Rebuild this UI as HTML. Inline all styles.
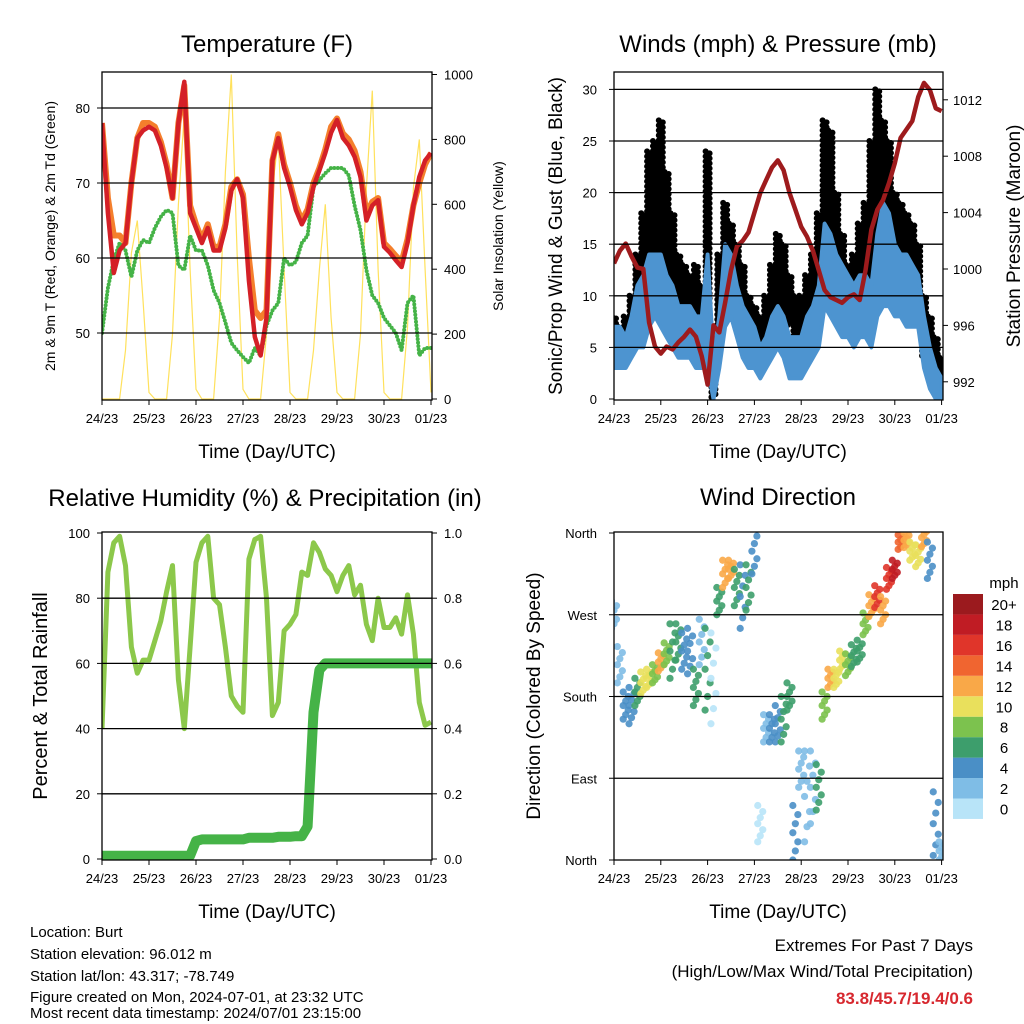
<!DOCTYPE html>
<html><head><meta charset="utf-8"><style>
html,body{margin:0;padding:0;background:#fff;}
svg{display:block;font-family:"Liberation Sans",sans-serif;}
</style></head><body>
<svg id="chart" width="1024" height="1024" viewBox="0 0 1024 1024" xmlns="http://www.w3.org/2000/svg">
<defs>
<clipPath id="c1"><rect x="102" y="72" width="330" height="328"/></clipPath>
<clipPath id="c2"><rect x="614" y="72" width="329" height="328"/></clipPath>
<clipPath id="c3"><rect x="102" y="532" width="330" height="328"/></clipPath>
<clipPath id="c4"><rect x="614" y="532" width="329" height="328"/></clipPath>
</defs>
<g font-size="24" text-anchor="middle" fill="#000">
<text x="267" y="52">Temperature (F)</text>
<text x="778" y="52">Winds (mph) &amp; Pressure (mb)</text>
<text x="265" y="506">Relative Humidity (%) &amp; Precipitation (in)</text>
<text x="778" y="505">Wind Direction</text>
</g>
<g font-size="19" text-anchor="middle">
<text x="267" y="458">Time (Day/UTC)</text>
<text x="778" y="458">Time (Day/UTC)</text>
<text x="267" y="918">Time (Day/UTC)</text>
<text x="778" y="918">Time (Day/UTC)</text>
<text transform="translate(55,236) rotate(-90)" font-size="14">2m &amp; 9m T (Red, Orange) &amp; 2m Td (Green)</text>
<text transform="translate(503,236) rotate(-90)" font-size="14">Solar Insolation (Yellow)</text>
<text transform="translate(562,236) rotate(-90)">Sonic/Prop Wind &amp; Gust (Blue, Black)</text>
<text transform="translate(1020,236) rotate(-90)">Station Pressure (Maroon)</text>
<text transform="translate(47,696) rotate(-90)" font-size="20">Percent &amp; Total Rainfall</text>
<text transform="translate(540,696) rotate(-90)">Direction (Colored By Speed)</text>
</g>
<g font-size="15">
<text x="30" y="937">Location: Burt</text>
<text x="30" y="959">Station elevation: 96.012 m</text>
<text x="30" y="981">Station lat/lon: 43.317; -78.749</text>
<text x="30" y="1002">Figure created on Mon, 2024-07-01, at 23:32 UTC</text>
<text x="30" y="1018">Most recent data timestamp: 2024/07/01 23:15:00</text>
</g>
<g font-size="17" text-anchor="end">
<text x="973" y="951">Extremes For Past 7 Days</text>
<text x="973" y="977">(High/Low/Max Wind/Total Precipitation)</text>
<text x="973" y="1004" font-weight="bold" fill="#d7282f">83.8/45.7/19.4/0.6</text>
</g>
<g id="layer"></g>
</svg>
<script>
// ---- data (3-hourly samples from 24/00Z to 01/00Z) ----
const dayLabels = ["24/23","25/23","26/23","27/23","28/23","29/23","30/23","01/23"];
const tempRed = [78,66,58,61,62,70,76,77, 77.5,77,75,72,68,78,83.5,66, 64,62,64,61,61,64,69,70.5, 68,57,49.5,47,52,73,76,72, 69.5,66.4,64.5,66,69.5,71.7,74,76.7, 78.4,76,75,73.5,70.8,65,67,67.7, 61.5,60.7,59.7,58.8,62,67,70.8,73,74];
const tempOrange = [78,68,63,63,62,70,76,78, 78,77.5,75.5,72.5,68,78,83,67, 64.5,62.5,64.5,61.5,61.5,64.5,69.5,70.5, 68.5,60,53,52,53,73,76.5,72.5, 70,67,65,66.5,70,72,74.5,77.5, 78.6,76.6,75.8,74.3,71.5,66,67.5,68, 62,61.2,60.3,59.5,62.5,67,70,72.5,74];
const dewGreen = [50,56,59.7,62,61,57.5,61,62.4, 62,64,65.5,66.4,66,59,58.4,63, 61,61,59,55.7,54,51.4,48.7,47.7, 46.8,46,48,47,51,53,54,60, 59,59.5,62,63,69.5,70.4,71.3,72, 72,72,71,67,63.7,58.4,55,54, 52,51,50,47.7,54,55,47,48,48];
const solar = [0,0,0,0,150,450,550,300, 20,0,0,0,200,600,880,400, 30,0,0,0,250,700,1000,450, 30,0,0,0,200,650,800,400, 20,0,0,0,150,400,600,250, 20,0,0,0,200,650,950,400, 20,0,0,0,220,650,800,400, 20];
const tempTicks = [50,60,70,80];
const solarTicks = [0,200,400,600,800,1000];

const windLo = [3,3,3,4,5,5,7,8, 7,6,5,4,4,4,3,3, 3,0,3,7,8,6,4,3, 3,2,3,4,5,4,2,2, 2,3,4,5,9,8,7,6, 6,5,6,6,5,8,9,9, 8,8,7,7,7,3,1,0,0];
const windHi = [7,7,6,8,11,12,14,14, 14,12,11,9,9,9,8,8, 14,4,8,15,14,11,9,8, 7,5,6,8,9,8,6,6, 6,8,9,11,17,16,14,13, 12,11,12,12,11,16,19,18, 15,14,14,13,12,8,5,3,2];
const gustLo = [4,4,5,6,8,8,12,13, 14,10,9,7,6,6,7,5, 4,0,7,10,9,8,6,5, 5,5,6,8,9,8,7,5, 4,5,7,10,14,12,10,8, 6,7,8,9,11,13,12,11, 10,9,9,8,7,4,3,1,0];
const gustHi = [8,7,8,10,14,18,24,25, 27,22,18,14,13,12,13,11, 24,6,14,19,17,15,13,10, 9,8,10,13,16,15,12,10, 10,12,14,18,27,26,20,16, 13,14,17,19,25,30,27,25, 20,19,18,17,15,10,8,6,4];
const pressure = [1000.4,1001.3,1001.8,1000.9,1000.1,1000,996.2,994.5, 994,994.5,994.3,994.8,995.2,995.7,995.2,993.8, 991.8,996,995.5,997.6,999.9,1001.6,1002,1002.6, 1004,1005.4,1006.3,1007.2,1007.7,1007,1005.4,1004.2, 1003,1002.3,1001.3,999.9,998.5,998,997.8,997.6, 998,998.2,997.8,999.9,1002.8,1004.2,1004.9,1006.1, 1007.5,1009.3,1009.9,1010.5,1012.2,1013.2,1012.7,1011.4,1011.2];
const windTicks = [0,5,10,15,20,25,30];
const pressTicks = [992,996,1000,1004,1008,1012];

const rh = [40,88,97,99,90,65,57,61, 61,67,73,82,90,55,40,65, 91,97,99,80,78,65,50,47, 45,92,98,99,80,44,48,70, 72,75,88,87,97,94,89,87, 82,87,90,81,84,72,67,80, 71,71,74,69,81,69,48,41,42];
const precip = [0.01,0.01,0.01,0.01,0.01,0.01,0.01,0.01, 0.01,0.01,0.01,0.01,0.01,0.01,0.01,0.01, 0.055,0.06,0.06,0.06,0.06,0.06,0.06,0.06, 0.06,0.065,0.065,0.065,0.065,0.065,0.068,0.068, 0.068,0.07,0.07,0.1,0.45,0.58,0.6,0.6, 0.6,0.6,0.6,0.6,0.6,0.6,0.6,0.6, 0.6,0.6,0.6,0.6,0.6,0.6,0.6,0.6,0.6];
const rhTicks = [0,20,40,60,80,100];
const precipTicks = ["0.0","0.2","0.4","0.6","0.8","1.0"];

const windDir = [270,215,170,170,185,195,200,205, 218,227,230,240,230,230,190,240, 210,200,285,315,320,300,290,300, 340,40,145,145,150,155,180,30, 100,70,80,80,170,200,200,220, 215,225,230,260,280,290,275,310, 320,350,352,340,335,355,330,40,10];
const dirSpread = [15,20,15,20,15,12,10,10, 10,12,30,20,20,25,20,25, 45,50,15,15,10,20,35,25, 25,20,15,15,20,25,15,30, 20,50,40,25,15,10,10,10, 12,12,12,12,12,12,15,12, 10,8,8,10,12,10,20,35,10];
const dirSpeed = [3,2,4,4,6,11,10,8, 12,9,7,6,4,5,6,3, 6,1,7,12,13,7,5,6, 5,1,3,4,5,6,7,5, 3,3,3,6,9,12,10,11, 8,6,6,9,13,16,13,17, 19,14,12,10,11,12,4,4,3];
const dirTicks = ["North","East","South","West","North"];
const speedLabels = ["0","2","4","6","8","10","12","14","16","18","20+"];
const speedColors = ["#b8e4f8","#7fbde6","#4a8fc6","#3d9e6c","#7cc24e","#e9e05c","#f9a848","#f06530","#e0352a","#c01c24","#9b1a1e"];

// ---- scales ----
const NS = "http://www.w3.org/2000/svg";
const layer = document.getElementById("layer");
function mk(tag, attrs, parent){ const e=document.createElementNS(NS,tag); for(const k in attrs) e.setAttribute(k,attrs[k]); (parent||layer).appendChild(e); return e; }
const dayOf = i => i/8;
const xT = d => 102 + d*47;
const xW = d => 614 + d*46.8;
const yTemp = v => 333 - (v-50)*7.5;
const ySolar = v => 399 - v*0.3245;
const yWind = v => 399 - v*10.32;
const yPress = v => 269 - (v-1000)*14.1;
const yRH = v => 859 - v*3.26;
const yPrecip = v => 859 - v*326;
const yDir = v => 860 - v*327/360;
function colorFor(s){ return speedColors[Math.min(10, Math.max(0, Math.floor(s/2)))]; }
function pathOf(arr, xf, yf){ return arr.map((v,i)=>(i?"L":"M")+xf(dayOf(i)).toFixed(1)+","+yf(v).toFixed(1)).join(""); }

function frame(){
  const g = mk("g",{});
  
  
  return g;
}
function grid(g, x0, x1, y){ const l=mk("line",{x1:x0,x2:x1,y1:y,y2:y,stroke:"#000","stroke-width":1.3},g);
  
   }
function label(g, x, y, txt, anchor, size){ const t=mk("text",{x:x,y:y,"text-anchor":anchor,"font-size":size||13},g); t.textContent=txt;
  
   return t; }
function xAxis(g, xf, yb){
  dayLabels.forEach((lab,i)=>{ const x=xf(i);
    mk("line",{x1:x,x2:x,y1:yb,y2:yb+5,stroke:"#000"},g);
    label(g,x,yb+23,lab,"middle",13); });
}
function boxRect(g,x,y,w,h){ const r=mk("rect",{x:x,y:y,width:w,height:h,fill:"none",stroke:"#000","stroke-width":1.3},g);
  
   }

// Panel 1: temperature
const g1 = frame(); const p1 = mk("g",{"clip-path":"url(#c1)"},g1);
tempTicks.forEach(v=>{ grid(g1,102,432,yTemp(v)); mk("line",{x1:97,x2:102,y1:yTemp(v),y2:yTemp(v),stroke:"#000"},g1); label(g1,90,yTemp(v)+5,String(v),"end",13); });
solarTicks.forEach(v=>{ mk("line",{x1:432,x2:437,y1:ySolar(v),y2:ySolar(v),stroke:"#000"},g1); label(g1,444,ySolar(v)+5,String(v),"start",13); });
const solarLine = mk("path",{d:pathOf(solar,xT,ySolar),fill:"none",stroke:"#ffe15c","stroke-width":1.2},p1);


const dewLine = mk("path",{d:pathOf(dewGreen,xT,yTemp),fill:"none",stroke:"#45b347","stroke-width":4,"stroke-linecap":"round","stroke-dasharray":"0 3.5"},p1);


const orLine = mk("path",{d:pathOf(tempOrange,xT,yTemp),fill:"none",stroke:"#f47f2c","stroke-width":6,"stroke-linejoin":"round"},p1);


const redLine = mk("path",{d:pathOf(tempRed,xT,yTemp),fill:"none",stroke:"#d42027","stroke-width":4.5,"stroke-linejoin":"round"},p1);


boxRect(g1,102,72,330,328); xAxis(g1,xT,400);

// Panel 2: winds & pressure
const g2 = frame(); const p2 = mk("g",{"clip-path":"url(#c2)"},g2);
windTicks.forEach(v=>{ if(v>0) grid(g2,614,943,yWind(v)); mk("line",{x1:609,x2:614,y1:yWind(v),y2:yWind(v),stroke:"#000"},g2); label(g2,597,yWind(v)+5,String(v),"end",13); });
pressTicks.forEach(v=>{ mk("line",{x1:943,x2:948,y1:yPress(v),y2:yPress(v),stroke:"#000"},g2); label(g2,953,yPress(v)+5,String(v),"start",13); });
gustLo.forEach((lo,i)=>{ const x=xW(dayOf(i)); const hi=gustHi[i];
  const y0=yWind(hi), y1=yWind(lo);
  for(let c=0;c<2;c++){
    const cx = x + (c?2:-2);
    for(let y=y0+(c?2:0); y<=y1; y+=5){
      const dot = mk("circle",{cx:cx,cy:y,r:3,fill:"#000"},p2);
      
      
    }
  }
});
let band = windLo.map((v,i)=>xW(dayOf(i)).toFixed(1)+","+yWind(v).toFixed(1));
band = band.concat(windHi.map((v,i)=>xW(dayOf(i)).toFixed(1)+","+yWind(v).toFixed(1)).reverse());
const windBand = mk("polygon",{points:band.join(" "),fill:"#4d94d0",stroke:"#4d94d0","stroke-width":4,"stroke-linejoin":"round"},p2);


const pLine = mk("path",{d:pathOf(pressure,xW,yPress),fill:"none",stroke:"#9e1b1d","stroke-width":4.5,"stroke-linejoin":"round"},p2);


boxRect(g2,614,72,329,328); xAxis(g2,xW,400);

// Panel 3: RH & precip
const g3 = frame(); const p3 = mk("g",{"clip-path":"url(#c3)"},g3);
rhTicks.forEach(v=>{ if(v>0&&v<100) grid(g3,102,432,yRH(v)); mk("line",{x1:97,x2:102,y1:yRH(v),y2:yRH(v),stroke:"#000"},g3); label(g3,90,yRH(v)+5,String(v),"end",13); });
precipTicks.forEach(s=>{ const v=parseFloat(s); mk("line",{x1:432,x2:437,y1:yPrecip(v),y2:yPrecip(v),stroke:"#000"},g3); label(g3,444,yPrecip(v)+5,s,"start",13); });
const rhLine = mk("path",{d:pathOf(rh,xT,yRH),fill:"none",stroke:"#8cc84b","stroke-width":5,"stroke-linejoin":"round"},p3);


const prLine = mk("path",{d:pathOf(precip,xT,yPrecip),fill:"none",stroke:"#45b347","stroke-width":10,"stroke-linejoin":"round","stroke-linecap":"round"},p3);


boxRect(g3,102,532,330,328); xAxis(g3,xT,860);

// Panel 4: wind direction
const g4 = frame(); const p4 = mk("g",{"clip-path":"url(#c4)"},g4);
dirTicks.forEach((lab,i)=>{ const v=i*90; if(i>0&&i<4) grid(g4,614,943,yDir(v)); mk("line",{x1:609,x2:614,y1:yDir(v),y2:yDir(v),stroke:"#000"},g4); label(g4,597,yDir(v)+5,lab,"end",13); });
windDir.forEach((d,i)=>{ const x=xW(dayOf(i)); const sp=dirSpread[i]; const col=colorFor(dirSpeed[i]);
  for(let k=0;k<7;k++){ const dd=d-sp+k*(2*sp/6); const xx=x+(k%3-1)*2.5;
    const c = mk("circle",{cx:xx,cy:yDir(dd),r:3.6,fill:col,"fill-opacity":0.9},p4);
    
     }
});
boxRect(g4,614,532,329,328); xAxis(g4,xW,860);

// colorbar
const cb = mk("g",{});


speedColors.forEach((c,i)=>{ const y=798.5-i*20.45;
  const r = mk("rect",{x:953,y:y,width:30,height:20.45,fill:c},cb);
  
  
  label(cb,1004,y+16,speedLabels[i],"middle",15); });
label(cb,1004,588,"mph","middle",15);
</script>
</body></html>
